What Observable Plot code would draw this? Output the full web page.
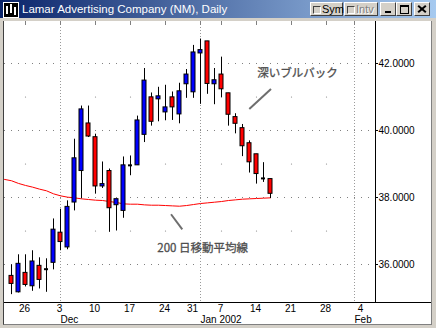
<!DOCTYPE html>
<html>
<head>
<meta charset="utf-8">
<script src="https://cdn.jsdelivr.net/npm/d3@7"></script>
<script src="https://cdn.jsdelivr.net/npm/@observablehq/plot@0.6"></script>
<style>
html,body{margin:0;padding:0;background:#d4d0c8;}
#win{position:relative;width:436px;height:328px;overflow:hidden;background:#d4d0c8;font-family:"Liberation Sans",Arial,sans-serif;}
#title{position:absolute;left:0;top:0;width:436px;height:18px;background:linear-gradient(to right,#0a246a,#a6caf0);}
#icon{position:absolute;left:3px;top:2px;width:14px;height:14px;background:#000;border:1px solid #fff;}
#icon i{position:absolute;width:2px;background:#fff;}
#ttext{position:absolute;left:22px;top:1px;color:#fff;font-size:11.5px;line-height:16px;white-space:nowrap;}
.btn{position:absolute;top:2px;height:14px;background:#d4d0c8;border-top:1px solid #fff;border-left:1px solid #fff;border-right:1px solid #404040;border-bottom:1px solid #404040;box-sizing:border-box;font-size:11px;line-height:12px;color:#000;}
.chk{position:absolute;left:2px;top:3px;width:6px;height:6px;border-top:1px solid #404040;border-left:1px solid #404040;border-right:1px solid #fff;border-bottom:1px solid #fff;}
.lbl{position:absolute;left:11px;top:0px;}
#chart{position:absolute;left:3px;top:21px;width:427px;height:303px;background:#fff;border-left:1px solid #404040;border-right:1px solid #808080;border-bottom:1px solid #808080;}
</style>
</head>
<body>
<div id="win">
  <div id="title">
    <div id="icon"><i style="left:2px;top:3px;height:8px"></i><i style="left:6px;top:1px;height:9px"></i><i style="left:10px;top:4px;height:8px"></i></div>
    <div id="ttext">Lamar Advertising Company (NM), Daily</div>
    <div class="btn" style="left:310px;width:33px"><div class="chk"></div><div class="lbl">Sym</div></div>
    <div class="btn" style="left:344px;width:34px"><div class="chk"></div><div class="lbl" style="color:#808080;text-shadow:1px 1px 0 #fff">Intv</div></div>
    <div class="btn" style="left:380px;width:16px"><div style="position:absolute;left:4px;top:8px;width:6px;height:2px;background:#000"></div></div>
    <div class="btn" style="left:396px;width:16px"><div style="position:absolute;left:3px;top:2px;width:7px;height:6px;border:1px solid #000;border-top-width:2px"></div></div>
    <div class="btn" style="left:414px;width:16px"><div style="position:absolute;left:2px;top:5px;width:10px;height:2px;background:#000;transform:rotate(40deg)"></div><div style="position:absolute;left:2px;top:5px;width:10px;height:2px;background:#000;transform:rotate(-40deg)"></div></div>
  </div>
  <div id="chart"></div>
</div>
<script>
// ---- data (trading-day index 0 = 21 Nov 2001) ----
const dayIndex = d3.range(38);
const openP  = [35.66,35.17,35.75,35.35,35.96,35.86,36.05,36.95,36.51,37.85,38.79,40.21,39.80,38.33,38.79,37.77,37.60,38.96,38.96,39.87,40.99,40.93,40.54,40.99,40.48,41.38,41.14,42.30,42.66,41.38,41.67,41.11,40.40,40.07,39.62,39.29,38.57,38.55];
const highP  = [35.99,36.29,36.29,36.41,36.20,36.17,37.36,37.65,37.90,39.74,40.73,40.73,39.89,39.06,38.85,37.95,39.21,39.24,40.43,41.85,41.12,41.29,41.35,41.15,41.41,41.82,42.54,42.73,42.66,41.85,42.19,41.11,40.50,40.18,39.69,39.29,39.04,38.55];
const lowP   = [35.10,35.15,35.33,35.20,35.27,35.17,35.84,36.41,36.44,37.60,37.96,39.79,38.10,38.27,36.96,37.00,37.38,38.65,38.96,39.64,40.13,40.26,40.29,40.30,40.20,40.96,40.96,40.78,41.08,40.77,40.98,40.13,39.90,39.22,38.73,38.40,38.45,37.97];
const closeP = [35.42,36.02,35.39,36.09,35.54,35.86,37.04,36.67,37.72,39.17,40.63,39.82,38.33,38.40,37.68,37.95,38.96,38.96,40.30,41.49,40.26,41.02,40.69,40.69,41.17,41.67,42.33,42.40,41.39,41.50,41.23,40.47,40.20,39.53,39.05,38.70,38.57,38.11];
const maIndex = d3.range(-1, 38);
const ma200 = [38.54,38.50,38.42,38.36,38.31,38.25,38.20,38.11,38.05,38.01,37.99,37.96,37.94,37.92,37.91,37.88,37.85,37.81,37.80,37.80,37.78,37.77,37.77,37.76,37.75,37.74,37.76,37.79,37.82,37.84,37.86,37.88,37.91,37.93,37.95,37.96,37.97,37.98,37.99];
const dayTickIdx = [2,7,12,17,22,26,30,35,40,45,50];
const dayTickLabels = ["26","3","10","17","24","31","7","14","21","28","4"];
const monthIdx = [7,27,49];
const monthLabels = ["Dec","Jan 2002","Feb"];
const gridIdx = [2,7,12,17,22,27,30,35,40,45,49];
const yTicks = [36,38,40,42];
const yOdd = [37,39,41];
const annoText = ["深いブルバック","200 日移動平均線"];
const annoX = [35.11,20.83];
const annoY = [41.71,36.48];
const leadX1 = [33.97,22.79], leadY1 = [40.64,37.50];
const leadX2 = [37.07,24.40], leadY2 = [41.24,37.05];
const xDomain = [-1, 52];
const yDomain = [34.8657, 43.2537];

// ---- derived tables ----
const candles = dayIndex.map(i => ({i, o: openP[i], h: highP[i], l: lowP[i], c: closeP[i]}));
const bodies = candles.filter(d => d.o !== d.c);
const dojis = candles.filter(d => d.o === d.c);
const ma = maIndex.map((i, k) => ({i, v: ma200[k]}));
const dots = gridIdx.filter(g => !monthIdx.includes(g)).flatMap(g => yOdd.map(v => ({g, v})));
const annos = annoText.map((t, k) => ({t, x: annoX[k], y: annoY[k]}));
const leads = leadX1.map((x, k) => ({x1: x, y1: leadY1[k], x2: leadX2[k], y2: leadY2[k]}));
const half = 2 / 7;

const chart = Plot.plot({
  width: 427, height: 301,
  marginLeft: 0, marginRight: 56, marginTop: 0, marginBottom: 20,
  style: {background: "#fff", fontFamily: "'Liberation Sans', Arial, sans-serif", fontSize: "10px", color: "#000", overflow: "visible"},
  x: {type: "linear", domain: xDomain, ticks: dayTickIdx, tickFormat: i => dayTickLabels[dayTickIdx.indexOf(i)], tickSize: 0, tickPadding: 2, label: null},
  y: {domain: yDomain, axis: "right", ticks: yTicks, tickFormat: d3.format(".4f"), tickSize: 2, tickPadding: 1, label: null, fontSize: 10.5},
  color: {type: "identity"},
  marks: [
    Plot.ruleY(yTicks, {stroke: "#808080", strokeDasharray: "1,6"}),
    Plot.ruleX(monthIdx, {stroke: "#9a9a9a", strokeDasharray: "1,2"}),
    Plot.dot(dots, {x: "g", y: "v", r: 0.6, fill: "#808080", stroke: null}),
    Plot.ruleX(gridIdx, {y1: () => yDomain[1], y2: () => yDomain[1] - 4 / 33.5, stroke: "#808080"}),
    Plot.line(ma, {x: "i", y: "v", stroke: "#ff0000", strokeWidth: 1}),
    Plot.ruleX(candles, {x: "i", y1: "l", y2: "h", stroke: "#000"}),
    Plot.rect(bodies, {x1: d => d.i - half, x2: d => d.i + half, y1: "o", y2: "c", fill: d => d.c > d.o ? "#0000ff" : "#ff0000", stroke: "#000", strokeWidth: 1}),
    Plot.ruleY(dojis, {y: "o", x1: d => d.i - half, x2: d => d.i + half, stroke: "#000", strokeWidth: 2}),
    Plot.link(leads, {x1: "x1", y1: "y1", x2: "x2", y2: "y2", stroke: "#6e6e6e", strokeWidth: 2}),
    Plot.text(annos, {x: "x", y: "y", text: "t", textAnchor: "start", fontFamily: "'Noto Sans CJK JP', sans-serif", fontSize: 11.5, fill: "#4e4e4e", stroke: "#4e4e4e", strokeWidth: 0.3}),
    Plot.text(monthIdx, {x: d => d, y: () => yDomain[0], text: (d, k) => monthLabels[k], textAnchor: "start", dy: 17, fill: "#000", fontSize: 10}),
    Plot.ruleX([xDomain[1]], {stroke: "#000"}),
    Plot.ruleY([yDomain[0]], {x1: () => xDomain[0], x2: () => xDomain[0] + 427 / 7, stroke: "#000"})
  ]
});
chart.querySelectorAll("g[aria-label='x-axis tick label'] text, g[aria-label='x-axis'] text").forEach(t => t.setAttribute("dx", "-1"));
document.getElementById("chart").appendChild(chart);
</script>
</body>
</html>
